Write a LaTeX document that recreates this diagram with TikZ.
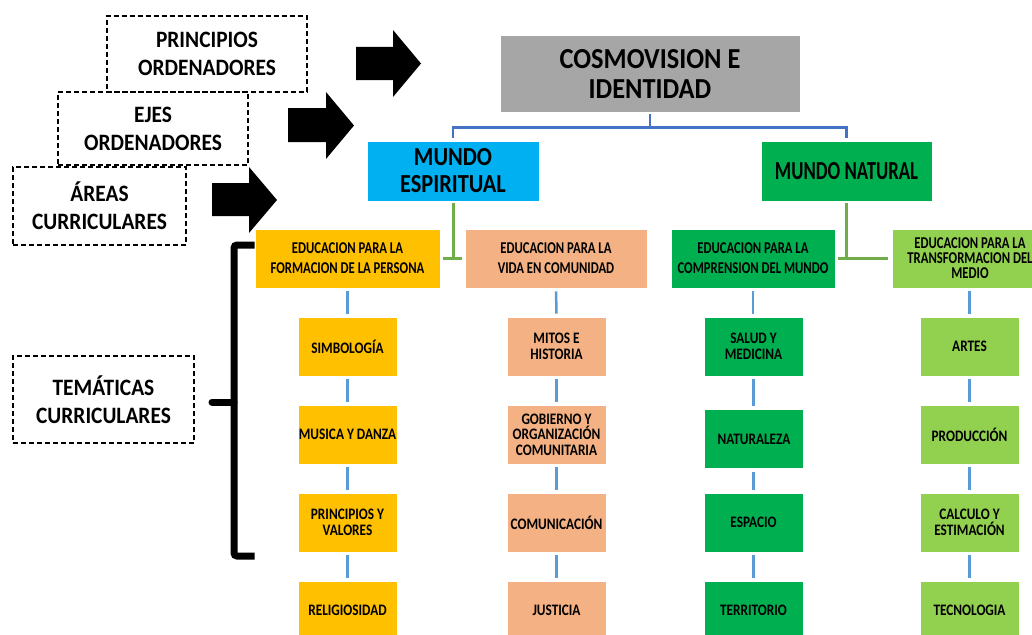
\documentclass[tikz,border=0pt]{standalone}
\usepackage{fontspec}
\setmainfont{Carlito}
\newfontfamily\fA{Carlito}[FakeStretch=0.91]
\newfontfamily\fB{Carlito}[FakeStretch=0.86]
\newfontfamily\fC{Carlito}[FakeStretch=0.72]
\newfontfamily\fD{Carlito}[FakeStretch=0.77]
\newfontfamily\fE{Carlito}[FakeStretch=0.83]
\definecolor{cgray}{HTML}{A6A6A6}
\definecolor{ccyan}{HTML}{00B0F0}
\definecolor{cgreen}{HTML}{00B050}
\definecolor{cgold}{HTML}{FFC000}
\definecolor{corange}{HTML}{F4B183}
\definecolor{clime}{HTML}{92D050}
\definecolor{cblue}{HTML}{4472C4}
\definecolor{clblue}{HTML}{5B9BD5}
\definecolor{cgline}{HTML}{70AD47}
\tikzset{
  dbox/.style={draw=black, dash pattern=on 5pt off 3pt, line width=1.8pt, align=center, inner sep=0pt,
    font=\fA\bfseries\fontsize{23.5}{28}\selectfont},
  topbox/.style={align=center, inner sep=0pt, draw=white, line width=0.6pt},
  lvtwo/.style={align=center, inner sep=0pt, minimum height=59pt, draw=white, line width=0.6pt,
    font=\fD\bfseries\fontsize{16.5}{20}\selectfont},
  lvthree/.style={align=center, inner sep=0pt, minimum width=99pt, minimum height=59pt, draw=white, line width=0.6pt,
    font=\fE\bfseries\fontsize{16}{15.5}\selectfont},
  blueline/.style={draw=cblue, line width=2.5pt},
  greenline/.style={draw=cgline, line width=3pt},
  lblueline/.style={draw=clblue, line width=2.5pt, shorten <=3pt, shorten >=3pt},
  blockarrow/.style={fill=black}
}
\begin{document}
\begin{tikzpicture}[x=1pt,y=-1pt]
\useasboundingbox (0,0) rectangle (1032,634);
\fill[white] (0,0) rectangle (1032,634);
\clip (0,0) rectangle (1032,634);

% dashed label boxes
\node[dbox, minimum width=200pt, minimum height=76pt] (princ) at (207,54) {PRINCIPIOS\\ORDENADORES};
\node[dbox, minimum width=190pt, minimum height=73pt] (ejes) at (153,128.5) {EJES\\ORDENADORES};
\node[dbox, minimum width=173pt, minimum height=78pt] (areas) at (99.5,206) {ÁREAS\\CURRICULARES};
\node[dbox, minimum width=181pt, minimum height=87pt] (tema) at (103.5,399.5) {TEMÁTICAS\\CURRICULARES};

% block arrows
\fill[blockarrow] (356,47) -- (393,47) -- (393,30) -- (421,63.5) -- (393,97) -- (393,80) -- (356,80) -- cycle;
\fill[blockarrow] (288,108) -- (326,108) -- (326,92) -- (354,125.5) -- (326,159) -- (326,142) -- (288,142) -- cycle;
\fill[blockarrow] (212,183) -- (249,183) -- (249,167) -- (277,200) -- (249,233) -- (249,216) -- (212,216) -- cycle;

% top level
\node[topbox, fill=cgray, minimum width=300pt, minimum height=77pt,
  font=\fA\bfseries\fontsize{29}{30}\selectfont] (cosmo) at (650,73.5) {COSMOVISION E\\IDENTIDAD};
\node[topbox, fill=ccyan, minimum width=172pt, minimum height=60pt,
  font=\fB\bfseries\fontsize{26}{27}\selectfont] (esp) at (453,171) {MUNDO\\ESPIRITUAL};
\node[topbox, fill=cgreen, minimum width=171pt, minimum height=60pt,
  font=\fC\bfseries\fontsize{26}{27}\selectfont] (nat) at (846.5,171) {MUNDO NATURAL};

% level 2
\node[lvtwo, fill=cgold, minimum width=185pt] (form) at (347.5,258.5) {EDUCACION PARA LA\\FORMACION DE LA PERSONA};
\node[lvtwo, fill=corange, minimum width=182pt] (vida) at (556,258.5) {EDUCACION PARA LA\\VIDA EN COMUNIDAD};
\node[lvtwo, fill=cgreen, minimum width=164pt] (comp) at (753,258.5) {EDUCACION PARA LA\\COMPRENSION DEL MUNDO};
\node[lvtwo, fill=clime, minimum width=156pt, font=\fD\bfseries\fontsize{16.5}{15}\selectfont] (trans) at (970,258.5) {EDUCACION PARA LA\\TRANSFORMACION DEL\\MEDIO};

% level 3, column 1
\node[lvthree, fill=cgold] (a1) at (347.5,346.5) {SIMBOLOGÍA};
\node[lvthree, fill=cgold] (a2) at (347.5,434.5) {MUSICA Y DANZA};
\node[lvthree, fill=cgold] (a3) at (347.5,522.5) {PRINCIPIOS Y\\VALORES};
\node[lvthree, fill=cgold] (a4) at (347.5,610.5) {RELIGIOSIDAD};
% column 2
\node[lvthree, fill=corange] (b1) at (556.5,346.5) {MITOS E\\HISTORIA};
\node[lvthree, fill=corange] (b2) at (556.5,434.5) {GOBIERNO Y\\ORGANIZACIÓN\\COMUNITARIA};
\node[lvthree, fill=corange] (b3) at (556.5,522.5) {COMUNICACIÓN};
\node[lvthree, fill=corange] (b4) at (556.5,610.5) {JUSTICIA};
% column 3
\node[lvthree, fill=cgreen] (c1) at (753.5,346.5) {SALUD Y\\MEDICINA};
\node[lvthree, fill=cgreen] (c2) at (754,439) {NATURALEZA};
\node[lvthree, fill=cgreen] (c3) at (753.5,522.5) {ESPACIO};
\node[lvthree, fill=cgreen] (c4) at (753.5,610.5) {TERRITORIO};
% column 4
\node[lvthree, fill=clime] (d1) at (969.5,346.5) {ARTES};
\node[lvthree, fill=clime] (d2) at (969.5,434.5) {PRODUCCIÓN};
\node[lvthree, fill=clime] (d3) at (969.5,522.5) {CALCULO Y\\ESTIMACIÓN};
\node[lvthree, fill=clime] (d4) at (969.5,610.5) {TECNOLOGIA};

% top connectors
\coordinate (hub) at ([yshift=-15pt]cosmo.south);
\draw[blueline] ([yshift=-2pt]cosmo.south) -- (hub);
\draw[blueline, shorten >=3pt] (hub) -| (esp.north);
\draw[blueline, shorten >=3pt] (hub) -| (nat.north);

% green connectors
\draw[greenline, shorten <=2pt] (esp.south) -- (esp.south |- form.east);
\draw[greenline, shorten <=3pt, shorten >=3pt] (form.east) -- (vida.west);
\draw[greenline, shorten <=2pt] (nat.south) -- (nat.south |- comp.east);
\draw[greenline, shorten <=3pt, shorten >=4pt] (comp.east) -- (trans.west);

% level 3 connectors
\draw[lblueline] (form.south) -- (a1.north);
\draw[lblueline] (a1.south) -- (a2.north);
\draw[lblueline] (a2.south) -- (a3.north);
\draw[lblueline] (a3.south) -- (a4.north);
\draw[lblueline] (vida.south) -- (b1.north);
\draw[lblueline] (b1.south) -- (b2.north);
\draw[lblueline] (b2.south) -- (b3.north);
\draw[lblueline] (b3.south) -- (b4.north);
\draw[lblueline] (comp.south) -- (comp.south |- c1.north);
\draw[lblueline] (c1.south) -- (c1.south |- c2.north);
\draw[lblueline] (c2.south -| c3.north) -- (c3.north);
\draw[lblueline] (c3.south) -- (c4.north);
\draw[lblueline] (trans.south -| d1.north) -- (d1.north);
\draw[lblueline] (d1.south) -- (d2.north);
\draw[lblueline] (d2.south) -- (d3.north);
\draw[lblueline] (d3.south) -- (d4.north);

% black bracket
\coordinate (brtop) at (form.west |- 0,245);
\coordinate (brbot) at (form.west |- 0,556);
\draw[line width=7pt, rounded corners=3pt] (brtop) -- (234,245) -- (234,556) -- (brbot);
\draw[line width=7pt, line cap=round] (234,402) -- (212,402);
\end{tikzpicture}
\end{document}
